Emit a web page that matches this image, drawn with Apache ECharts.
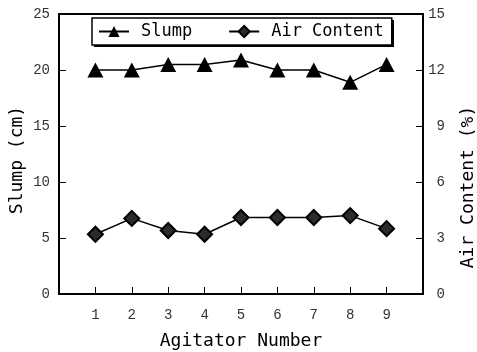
<!DOCTYPE html>
<html>
<head>
<meta charset="utf-8">
<script src="https://cdn.jsdelivr.net/npm/echarts@6/dist/echarts.min.js"></script>
<style>
	html, body { margin: 0; padding: 0; background: #fff; }
	#chart { width: 477px; height: 352px; }
</style>
</head>
<body>
<div id="chart"></div>
<script>
const agitators = [1, 2, 3, 4, 5, 6, 7, 8, 9];
const slump = [20, 20, 20.5, 20.5, 20.9, 20, 20, 18.9, 20.5];
const airContent = [3.2, 4.05, 3.4, 3.2, 4.1, 4.1, 4.1, 4.2, 3.5];

const mono = 'DejaVu Sans Mono';
const tickFont = 'Liberation Mono';
const pairs = (vals) => agitators.map((a, i) => [a, vals[i]]);

const myChart = echarts.init(document.getElementById('chart'));

const option = {
	animation: false,
	grid: {
		left: 59,
		right: 54,
		top: 14,
		bottom: 58,
		outerBoundsMode: 'none',
		show: true,
		borderColor: '#000',
		borderWidth: 2,
	},
	// drop shadow behind the legend box
	graphic: [
		{
			type: 'rect',
			z: 0,
			shape: { x: 94, y: 20, width: 300, height: 27 },
			style: { fill: '#000' },
		},
	],
	legend: {
		left: 92,
		top: 18,
		z: 10,
		padding: [5, 8, 5, 6],
		itemGap: 36,
		itemWidth: 30,
		itemHeight: 14,
		backgroundColor: '#fff',
		borderColor: '#000',
		borderWidth: 1.5,
		textStyle: {
			fontFamily: mono,
			fontSize: 17,
			color: '#000',
			padding: [0, 0, 0, 7],
		},
		data: ['Slump', 'Air Content'],
	},
	xAxis: {
		type: 'value',
		min: 0,
		max: 10,
		interval: 1,
		name: 'Agitator Number',
		nameLocation: 'middle',
		nameGap: 38,
		nameTextStyle: { fontFamily: mono, fontSize: 18, color: '#000' },
		axisLine: { lineStyle: { color: '#000', width: 2 } },
		axisTick: { inside: true, length: 7, lineStyle: { color: '#000' } },
		axisLabel: {
			fontFamily: tickFont,
			fontSize: 14,
			color: '#333',
			margin: 14,
			formatter: (v) => (v >= 1 && v <= 9 ? String(v) : ''),
		},
		splitLine: { show: false },
	},
	yAxis: [
		{
			type: 'value',
			min: 0,
			max: 25,
			interval: 5,
			name: 'Slump (cm)',
			nameLocation: 'middle',
			nameMoveOverlap: false,
			nameGap: 33,
			nameTextStyle: {
				fontFamily: mono,
				fontSize: 18,
				color: '#000',
				padding: [0, 12, 0, 0],
			},
			axisLine: { show: true, lineStyle: { color: '#000', width: 2 } },
			axisTick: { show: true, inside: true, length: 7, lineStyle: { color: '#000' } },
			axisLabel: { fontFamily: tickFont, fontSize: 14, color: '#333', margin: 9 },
			splitLine: { show: false },
		},
		{
			type: 'value',
			min: 0,
			max: 15,
			interval: 3,
			position: 'right',
			name: 'Air Content (%)',
			nameLocation: 'middle',
			nameGap: 36,
			nameRotate: 90,
			nameTextStyle: {
				fontFamily: mono,
				fontSize: 18,
				color: '#000',
				padding: [0, 66, 0, 0],
			},
			axisLine: { show: true, lineStyle: { color: '#000', width: 2 } },
			axisTick: { show: true, inside: true, length: 7, lineStyle: { color: '#000' } },
			axisLabel: {
				fontFamily: tickFont,
				fontSize: 14,
				color: '#333',
				margin: 22,
				align: 'right',
			},
			splitLine: { show: false },
		},
	],
	series: [
		{
			name: 'Slump',
			type: 'line',
			yAxisIndex: 0,
			data: pairs(slump),
			symbol: 'triangle',
			symbolSize: [16, 15],
			lineStyle: { color: '#000', width: 1.5 },
			itemStyle: { color: '#000' },
		},
		{
			name: 'Air Content',
			type: 'line',
			yAxisIndex: 1,
			data: pairs(airContent),
			symbol: 'diamond',
			symbolSize: [15, 15],
			lineStyle: { color: '#000', width: 1.5 },
			itemStyle: { color: '#2b2b2b', borderColor: '#000', borderWidth: 2 },
		},
	],
};
myChart.setOption(option);
</script>
</body>
</html>
